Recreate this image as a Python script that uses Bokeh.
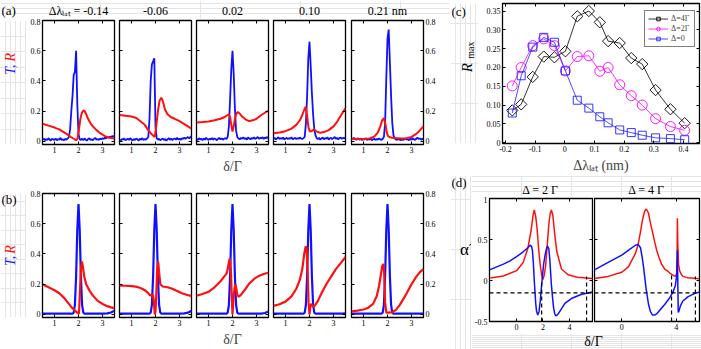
import math
from bokeh.plotting import figure
from bokeh.models import (Range1d, LinearAxis, FixedTicker, CustomJSTickFormatter,
                          CustomLabelingPolicy, Span, Legend, LegendItem)
from bokeh.core.properties import value
from bokeh.layouts import row, column
from bokeh.embed import file_html
from bokeh.resources import INLINE

FONT = "Liberation Serif"
BLUE = "#1010ff"
RED = "#ff1010"

# ---------------- panel (a): measured spectra ----------------
A_TITLES = ["Δλₗₐₜ = -0.14", "-0.06", "0.02", "0.10", "0.21 nm"]
AX = [0.5, 0.55, 0.6, 0.65, 0.7, 0.75, 0.8, 0.85, 0.9, 0.95, 1.0, 1.05, 1.1, 1.15, 1.2,
      1.25, 1.3, 1.35, 1.4, 1.45, 1.5, 1.55, 1.6, 1.65, 1.7, 1.75, 1.8, 1.85, 1.9, 1.95,
      2.0, 2.05, 2.1, 2.15, 2.2, 2.25, 2.3, 2.35, 2.4, 2.45, 2.5, 2.55, 2.6, 2.65, 2.7,
      2.75, 2.8, 2.85, 2.9, 2.95, 3.0, 3.05, 3.1, 3.15, 3.2, 3.25, 3.3, 3.35, 3.4, 3.45, 3.5]
A1_T = [0.012, 0.020, 0.008, 0.015, 0.010, 0.022, 0.012, 0.006, 0.018, 0.014, 0.010, 0.020,
        0.008, 0.016, 0.012, 0.024, 0.010, 0.014, 0.008, 0.018, 0.012, 0.020,
        0.03, 0.08, 0.20, 0.30, 0.44, 0.46, 0.60, 0.25, 0.05, 0.015,
        0.010, 0.018, 0.008, 0.020, 0.012, 0.006, 0.016, 0.022, 0.010, 0.014, 0.008, 0.018,
        0.024, 0.012, 0.016, 0.010, 0.020, 0.014, 0.022, 0.016, 0.026, 0.020, 0.030, 0.024,
        0.032, 0.028, 0.036, 0.030, 0.040]
A2_T = [0.010, 0.006, 0.016, 0.012, 0.020, 0.008, 0.014, 0.018, 0.010, 0.022, 0.012, 0.008,
        0.016, 0.010, 0.020, 0.014, 0.006, 0.018, 0.012, 0.022, 0.010, 0.016, 0.012, 0.020,
        0.03, 0.15, 0.40, 0.51, 0.53, 0.55, 0.10, 0.02,
        0.012, 0.018, 0.008, 0.014, 0.020, 0.010, 0.016, 0.006, 0.014, 0.022, 0.012, 0.018,
        0.010, 0.016, 0.020, 0.012, 0.024, 0.014, 0.018, 0.010, 0.022, 0.016, 0.026, 0.018,
        0.024, 0.030, 0.020, 0.028, 0.034]
A3_T = [0.016, 0.010, 0.022, 0.014, 0.018, 0.008, 0.020, 0.012, 0.024, 0.016, 0.010, 0.018,
        0.014, 0.022, 0.012, 0.020, 0.016, 0.008, 0.018, 0.024, 0.014, 0.020, 0.012, 0.018,
        0.022, 0.016,
        0.03, 0.10, 0.28, 0.48, 0.60, 0.45, 0.22, 0.07, 0.03,
        0.020, 0.014, 0.024, 0.018, 0.028, 0.016, 0.022, 0.012, 0.026, 0.020, 0.014, 0.024,
        0.018, 0.028, 0.016, 0.022, 0.030, 0.018, 0.024, 0.020, 0.028, 0.016, 0.026, 0.022,
        0.030, 0.020]
A4_T = [0.018, 0.024, 0.014, 0.020, 0.028, 0.016, 0.022, 0.018, 0.026, 0.012, 0.020, 0.024,
        0.016, 0.022, 0.018, 0.028, 0.014, 0.020, 0.024, 0.016, 0.022, 0.018, 0.026, 0.020,
        0.016, 0.022,
        0.03, 0.12, 0.30, 0.55, 0.66, 0.50, 0.32, 0.18, 0.08, 0.04, 0.022,
        0.016, 0.024, 0.012, 0.020, 0.026, 0.014, 0.022, 0.018, 0.028, 0.012, 0.020, 0.024,
        0.016, 0.022, 0.030, 0.018, 0.024, 0.014, 0.022, 0.026, 0.018, 0.024, 0.020, 0.026]
A5_T = [0.020, 0.014, 0.024, 0.018, 0.010, 0.022, 0.016, 0.012, 0.020, 0.008, 0.018, 0.014,
        0.022, 0.010, 0.016, 0.012, 0.020, 0.008, 0.014, 0.018, 0.010, 0.016, 0.012, 0.020,
        0.014, 0.010, 0.018,
        0.03, 0.12, 0.42, 0.68, 0.74, 0.52, 0.30, 0.12, 0.04, 0.02,
        0.014, 0.010, 0.018, 0.012, 0.008, 0.016, 0.010, 0.014, 0.020, 0.012, 0.016, 0.008,
        0.018, 0.012, 0.022, 0.014, 0.010, 0.018, 0.026, 0.016, 0.020, 0.012, 0.018, 0.014]

A1_RX = [0.5, 0.75, 1.0, 1.2, 1.4, 1.55, 1.7, 1.8, 1.9, 1.96, 2.02, 2.08, 2.14, 2.2, 2.26,
         2.32, 2.4, 2.5, 2.6, 2.75, 2.9, 3.1, 3.3, 3.5]
A1_R = [0.117, 0.105, 0.092, 0.08, 0.06, 0.045, 0.028, 0.018, 0.008, 0.02, 0.08, 0.15, 0.19,
        0.205, 0.2, 0.18, 0.15, 0.12, 0.1, 0.075, 0.055, 0.035, 0.025, 0.02]
A2_RX = [0.5, 0.75, 1.0, 1.2, 1.4, 1.55, 1.7, 1.8, 1.9, 1.97, 2.03, 2.1, 2.17, 2.24, 2.3,
         2.4, 2.5, 2.65, 2.8, 3.0, 3.2, 3.35, 3.5]
A2_R = [0.175, 0.17, 0.165, 0.155, 0.13, 0.11, 0.075, 0.055, 0.04, 0.03, 0.1, 0.2, 0.27,
        0.29, 0.27, 0.21, 0.18, 0.16, 0.15, 0.135, 0.115, 0.1, 0.085]
A3_RX = [0.5, 0.75, 1.0, 1.25, 1.5, 1.65, 1.75, 1.85, 1.9, 1.95, 2.0, 2.05, 2.1, 2.16, 2.22,
         2.3, 2.4, 2.55, 2.7, 2.85, 3.0, 3.2, 3.35, 3.5]
A3_R = [0.125, 0.128, 0.132, 0.14, 0.15, 0.16, 0.17, 0.18, 0.16, 0.11, 0.065, 0.1, 0.15,
        0.185, 0.195, 0.185, 0.165, 0.145, 0.135, 0.14, 0.15, 0.175, 0.19, 0.205]
A4_RX = [0.5, 0.75, 1.0, 1.25, 1.45, 1.6, 1.7, 1.78, 1.84, 1.9, 1.96, 2.02, 2.1, 2.2, 2.3,
         2.45, 2.6, 2.8, 3.0, 3.15, 3.3, 3.5]
A4_R = [0.055, 0.06, 0.068, 0.085, 0.11, 0.14, 0.175, 0.21, 0.23, 0.17, 0.09, 0.065, 0.07,
        0.08, 0.065, 0.058, 0.062, 0.075, 0.1, 0.13, 0.17, 0.22]
A5_RX = [0.5, 0.75, 1.0, 1.25, 1.45, 1.6, 1.7, 1.78, 1.85, 1.92, 1.97, 2.02, 2.1, 2.2, 2.4,
         2.6, 2.8, 3.0, 3.15, 3.3, 3.5]
A5_R = [0.018, 0.016, 0.015, 0.02, 0.032, 0.06, 0.1, 0.14, 0.154, 0.11, 0.06, 0.035, 0.028,
        0.024, 0.022, 0.02, 0.022, 0.03, 0.045, 0.065, 0.1]

# ---------------- panel (b): simulated spectra ----------------
BX = [0.5, 1.0, 1.5, 1.7, 1.75, 1.8, 1.85, 1.9, 1.95, 2.0, 2.05, 2.1, 2.15, 2.2, 2.25, 2.3,
      2.5, 3.0, 3.2, 3.35, 3.5]
B1_T = [0.005, 0.005, 0.005, 0.005, 0.006, 0.012, 0.064, 0.25, 0.56, 0.73, 0.56, 0.25, 0.064,
        0.012, 0.006, 0.005, 0.005, 0.005, 0.007, 0.013, 0.025]
B2_T = [0.005, 0.005, 0.005, 0.005, 0.006, 0.012, 0.064, 0.25, 0.56, 0.73, 0.56, 0.25, 0.064,
        0.012, 0.006, 0.005, 0.005, 0.005, 0.007, 0.012, 0.024]
B3_T = [0.005, 0.005, 0.005, 0.005, 0.006, 0.012, 0.064, 0.25, 0.56, 0.73, 0.56, 0.25, 0.064,
        0.012, 0.006, 0.005, 0.005, 0.005, 0.006, 0.01, 0.02]
B4_T = [0.005, 0.005, 0.005, 0.005, 0.006, 0.012, 0.064, 0.25, 0.56, 0.73, 0.56, 0.25, 0.064,
        0.012, 0.006, 0.005, 0.005, 0.005, 0.005, 0.006, 0.008]
B5_T = [0.005, 0.005, 0.005, 0.005, 0.006, 0.012, 0.064, 0.25, 0.56, 0.73, 0.56, 0.25, 0.064,
        0.012, 0.006, 0.005, 0.005, 0.005, 0.005, 0.005, 0.005]

B1_RX = [0.5, 0.75, 1.0, 1.2, 1.4, 1.55, 1.7, 1.85, 1.95, 2.02, 2.06, 2.1, 2.14, 2.18, 2.24,
         2.32, 2.45, 2.6, 2.8, 3.0, 3.2, 3.35, 3.5]
B1_R = [0.2, 0.18, 0.16, 0.14, 0.11, 0.08, 0.05, 0.025, 0.012, 0.005, 0.15, 0.3, 0.35, 0.32,
        0.25, 0.2, 0.16, 0.125, 0.09, 0.07, 0.055, 0.047, 0.042]
B2_RX = [0.5, 0.75, 1.0, 1.25, 1.45, 1.6, 1.7, 1.78, 1.84, 1.89, 1.93, 1.97, 2.0, 2.03, 2.07,
         2.11, 2.15, 2.2, 2.3, 2.5, 2.7, 2.9, 3.1, 3.3, 3.5]
B2_R = [0.19, 0.19, 0.187, 0.182, 0.17, 0.155, 0.14, 0.125, 0.13, 0.13, 0.09, 0.0, 0.02, 0.12,
        0.3, 0.35, 0.28, 0.2, 0.185, 0.18, 0.17, 0.155, 0.14, 0.13, 0.122]
B3_RX = [0.5, 0.75, 1.0, 1.25, 1.5, 1.65, 1.75, 1.8, 1.85, 1.89, 1.93, 1.97, 2.0, 2.04, 2.08,
         2.12, 2.16, 2.2, 2.26, 2.35, 2.5, 2.7, 2.9, 3.1, 3.3, 3.5]
B3_R = [0.124, 0.135, 0.15, 0.18, 0.22, 0.25, 0.27, 0.3, 0.35, 0.37, 0.3, 0.12, 0.0, 0.1, 0.17,
        0.2, 0.17, 0.13, 0.117, 0.13, 0.16, 0.205, 0.235, 0.255, 0.268, 0.276]
B4_RX = [0.5, 0.75, 1.0, 1.25, 1.45, 1.6, 1.7, 1.78, 1.84, 1.88, 1.92, 1.96, 2.0, 2.04, 2.08,
         2.13, 2.18, 2.25, 2.35, 2.5, 2.7, 2.9, 3.1, 3.3, 3.5]
B4_R = [0.057, 0.068, 0.085, 0.12, 0.17, 0.23, 0.3, 0.4, 0.45, 0.44, 0.3, 0.08, 0.0, 0.06,
        0.07, 0.055, 0.05, 0.065, 0.09, 0.14, 0.2, 0.25, 0.3, 0.34, 0.38]
B5_RX = [0.5, 0.75, 1.0, 1.2, 1.4, 1.55, 1.65, 1.72, 1.78, 1.82, 1.86, 1.9, 1.95, 2.05, 2.2,
         2.35, 2.5, 2.65, 2.8, 3.0, 3.2, 3.35, 3.5]
B5_R = [0.02, 0.025, 0.033, 0.045, 0.07, 0.12, 0.19, 0.26, 0.32, 0.335, 0.28, 0.08, 0.012,
        0.012, 0.015, 0.03, 0.06, 0.1, 0.14, 0.2, 0.25, 0.28, 0.3]

# ---------------- panel (c): R_max vs detuning ----------------
C_X = [-0.177, -0.147, -0.108, -0.071, -0.035, 0.002, 0.042, 0.081, 0.118, 0.146, 0.185,
       0.224, 0.261, 0.306, 0.356, 0.404]
C_4G = [0.086, 0.102, 0.175, 0.229, 0.227, 0.243, 0.336, 0.350, 0.320, 0.270, 0.265, 0.225,
        0.209, 0.140, 0.089, 0.052]
C_2G = [0.151, 0.200, 0.258, 0.276, 0.258, 0.191, 0.229, 0.231, 0.190, 0.200, 0.154, 0.125,
        0.100, 0.064, 0.043, 0.033]
C_0 = [0.079, 0.178, 0.254, 0.280, 0.267, 0.191, 0.113, 0.092, 0.069, 0.053, 0.034, 0.027,
       0.020, 0.013, 0.011, 0.008]
C_LABELS = ["Δ=4Γ", "Δ=2Γ", "Δ=0"]

# ---------------- panel (d): polarizability ----------------
D1_RX = [-2.0, -1.0, 0.0, 0.5, 0.85, 1.1, 1.25, 1.34, 1.45, 1.55, 1.7, 1.8, 1.9, 2.0, 2.1,
         2.2, 2.3, 2.45, 2.55, 2.64, 2.75, 2.9, 3.05, 3.4, 3.9, 4.6, 5.75]
D1_R = [0.03, 0.055, 0.12, 0.22, 0.39, 0.61, 0.8, 0.86, 0.78, 0.64, 0.33, 0.18, 0.07, 0.01,
        0.07, 0.18, 0.38, 0.7, 0.82, 0.86, 0.79, 0.55, 0.35, 0.14, 0.07, 0.04, 0.025]
D1_BX = [-2.05, -1.0, -0.5, 0.0, 0.5, 0.85, 1.02, 1.12, 1.2, 1.27, 1.34, 1.45, 1.51, 1.6, 1.7,
         1.8, 1.95, 2.05, 2.15, 2.25, 2.34, 2.44, 2.52, 2.63, 2.72, 2.8, 2.9, 2.98, 3.1, 3.3,
         3.66, 4.15, 4.88, 5.75]
D1_B = [0.13, 0.2, 0.24, 0.29, 0.35, 0.40, 0.43, 0.42, 0.37, 0.22, 0.0, -0.28, -0.37, -0.42,
        -0.38, -0.24, 0.04, 0.2, 0.3, 0.38, 0.42, 0.39, 0.25, -0.04, -0.2, -0.33, -0.41, -0.43,
        -0.42, -0.37, -0.28, -0.22, -0.17, -0.14]
D2_RX = [-2.0, -1.0, 0.0, 0.5, 1.0, 1.2, 1.37, 1.5, 1.6, 1.7, 1.77, 1.85, 1.96, 2.1, 2.2, 2.4,
         2.56, 2.75, 2.92, 3.15, 3.4, 3.6, 3.8, 3.95, 4.02, 4.06, 4.08, 4.11, 4.16, 4.24, 4.35,
         4.48, 4.8, 5.1, 5.7]
D2_R = [0.025, 0.05, 0.1, 0.17, 0.33, 0.44, 0.59, 0.72, 0.8, 0.85, 0.87, 0.86, 0.82, 0.7,
        0.63, 0.48, 0.37, 0.27, 0.2, 0.14, 0.11, 0.08, 0.06, 0.05, 0.08, 0.35, 0.76, 0.45, 0.2,
        0.12, 0.08, 0.05, 0.035, 0.03, 0.02]
D2_BX = [-2.0, -1.0, 0.0, 0.5, 1.0, 1.2, 1.37, 1.5, 1.6, 1.77, 1.96, 2.1, 2.25, 2.44, 2.6,
         2.8, 3.16, 3.52, 3.76, 3.93, 4.02, 4.06, 4.08, 4.1, 4.14, 4.2, 4.3, 4.48, 4.84, 5.32,
         5.7]
D2_B = [0.13, 0.22, 0.31, 0.37, 0.43, 0.44, 0.40, 0.28, 0.16, -0.08, -0.29, -0.38, -0.42,
        -0.42, -0.4, -0.36, -0.29, -0.21, -0.14, -0.06, 0.05, 0.2, 0.37, 0.1, -0.39, -0.37,
        -0.31, -0.25, -0.2, -0.16, -0.14]
D_HLINE = -0.15
D1_VX = [1.9, 5.3]
D1_VTOP = [0.0, 0.05]
D2_VX = [3.65, 5.4]
D2_VTOP = [0.06, 0.05]
D_TITLES = ["Δ = 2 Γ", "Δ = 4 Γ"]

for arr in (A1_T, A2_T, A3_T, A4_T, A5_T):
    assert len(arr) == len(AX), len(arr)

FMT_G = "return String(Math.round(tick*100)/100);"
FMT_1 = "return tick == 0 ? '0' : tick.toFixed(1);"
FMT_2 = "return tick == 0 ? '0' : tick.toFixed(2);"
HIDE = CustomLabelingPolicy(code="for (const i of Array.from(indices)) { indices.unset(i) }")


def setup_axis(ax, ticks, fmt, show, size="8px", standoff=2):
    ax.ticker = FixedTicker(ticks=ticks)
    ax.formatter = CustomJSTickFormatter(code=fmt)
    ax.major_tick_in = 3
    ax.major_tick_out = 0
    ax.minor_tick_line_color = None
    ax.axis_line_color = None
    ax.major_tick_line_color = "black"
    ax.major_label_text_font = FONT
    ax.major_label_text_color = "black"
    if show:
        ax.major_label_text_font_size = size
        ax.major_label_standoff = standoff
    else:
        ax.major_label_text_font_size = "0px"
        ax.major_label_standoff = 0
        ax.major_label_policy = HIDE


def make_fig(w, h, bl, br, bt, bb, xr, yr, xt, yt, xfmt, yfmt,
             show_b=True, show_l=False, show_r=False):
    p = figure(width=w, height=h, x_range=Range1d(*xr), y_range=Range1d(*yr),
               output_backend="svg", toolbar_location=None, title_location=None,
               min_border_left=bl, min_border_right=br, min_border_top=bt,
               min_border_bottom=bb)
    p.xgrid.visible = False
    p.ygrid.visible = False
    p.outline_line_color = "black"
    p.outline_line_width = 1.3
    p.add_layout(LinearAxis(), "above")
    p.add_layout(LinearAxis(), "right")
    setup_axis(p.below[0], xt, xfmt, show_b)
    setup_axis(p.above[0], xt, xfmt, False)
    setup_axis(p.left[0], yt, yfmt, show_l)
    setup_axis(p.right[0], yt, yfmt, show_r)
    return p


def text_fig(w, h):
    p = figure(width=w, height=h, x_range=Range1d(0, w), y_range=Range1d(0, h),
               output_backend="svg", toolbar_location=None, title_location=None,
               x_axis_location=None, y_axis_location=None, min_border=0)
    p.outline_line_color = None
    return p


def put(p, txt, x, y_top, size="13px", color="black", angle=0.0, style="normal",
        align="left", baseline="middle"):
    p.text(x=[x], y=[p.height - y_top], text=[txt], text_font=value(FONT),
           text_font_size=value(size), text_color=color, angle=angle,
           text_font_style=style, text_align=align, text_baseline=baseline)


def xlabel(p, text):
    ax = p.below[0]
    ax.axis_label = text
    ax.axis_label_text_font = FONT
    ax.axis_label_text_font_size = "14px"
    ax.axis_label_text_font_style = "normal"
    ax.axis_label_standoff = 3


AY = [0, 0.2, 0.4, 0.6, 0.8]
ATX = [1, 2, 3]
XR_AB = (0.5, 3.5)
YR_AB = (-0.02, 0.8)

# geometry of the 5 columns after the 26px label strip: (width, border-left, border-right)
COLS = [(90, 16, 2), (77, 3, 2), (77, 3, 2), (78, 3, 3), (102, 3, 27)]
TITLE_X = [78, 155, 232, 309, 387]

a_T = [A1_T, A2_T, A3_T, A4_T, A5_T]
a_RX = [A1_RX, A2_RX, A3_RX, A4_RX, A5_RX]
a_R = [A1_R, A2_R, A3_R, A4_R, A5_R]
b_T = [B1_T, B2_T, B3_T, B4_T, B5_T]
b_RX = [B1_RX, B2_RX, B3_RX, B4_RX, B5_RX]
b_R = [B1_R, B2_R, B3_R, B4_R, B5_R]

# title strip over row (a)
top_strip = text_fig(450, 18)
put(top_strip, "(a)", 1, 10, size="13px")
for tx, tt in zip(TITLE_X, A_TITLES):
    put(top_strip, tt, tx, 10, size="12px", align="center")

lab_a = text_fig(26, 160)   # spans y 18..178
lab_b = text_fig(26, 171)   # spans y 178..349
for lp, top, t_y in ((lab_a, 18, 88), (lab_b, 178, 278)):
    put(lp, "T,", 10, t_y - top, size="14px", color=BLUE, angle=math.pi / 2,
        style="italic")
    put(lp, "R", 10, t_y - top - 17, size="14px", color=RED, angle=math.pi / 2,
        style="italic")
put(lab_b, "(b)", 1, 8, size="13px")

row_a = [lab_a]
row_b = [lab_b]
for i, (w, bl, br) in enumerate(COLS):
    pa = make_fig(w, 160, bl, br, 2, 34, XR_AB, YR_AB, ATX, AY, FMT_G, FMT_1,
                  show_l=(i == 0), show_r=(i == 4))
    pa.line(AX, a_T[i], line_color=BLUE, line_width=1.8)
    pa.line(a_RX[i], a_R[i], line_color=RED, line_width=2.0)
    pb = make_fig(w, 171, bl, br, 15, 32, XR_AB, YR_AB, ATX, AY, FMT_G, FMT_1,
                  show_l=(i == 0), show_r=(i == 4))
    pb.line(BX, b_T[i], line_color=BLUE, line_width=2.2)
    pb.line(b_RX[i], b_R[i], line_color=RED, line_width=2.2)
    if i == 2:
        xlabel(pa, "δ/Γ")
        xlabel(pb, "δ/Γ")
    row_a.append(pa)
    row_b.append(pb)

# ---------------- (c) ----------------
lab_c = text_fig(28, 175)   # x 450..478
put(lab_c, "(c)", 1, 10, size="13px")
put(lab_c, "R", 16, 86, size="15px", angle=math.pi / 2, style="italic")
put(lab_c, "max", 20, 69, size="10px", angle=math.pi / 2)

c = make_fig(223, 175, 24, 2, 3, 32, (-0.21, 0.454), (-0.002, 0.37),
             [-0.2, -0.1, 0, 0.1, 0.2, 0.3, 0.4],
             [0, 0.05, 0.1, 0.15, 0.2, 0.25, 0.3, 0.35], FMT_1, FMT_2, show_l=True)
xlabel(c, "Δλₗₐₜ (nm)")
l1 = c.line(C_X, C_4G, line_color="black", line_width=0.8)
s1 = c.scatter(C_X, C_4G, marker="square", angle=math.pi / 4, size=8,
               fill_color=None, line_color="black", line_width=0.9)
l2 = c.line(C_X, C_2G, line_color="#ff00ff", line_width=0.8)
s2 = c.scatter(C_X, C_2G, marker="circle", size=10, fill_color=None,
               line_color="#ff00ff", line_width=0.9)
l3 = c.line(C_X, C_0, line_color="#2020ff", line_width=0.8)
s3 = c.scatter(C_X, C_0, marker="square", size=8, fill_color=None,
               line_color="#2020ff", line_width=0.9)
leg = Legend(items=[LegendItem(label=C_LABELS[0], renderers=[l1, s1]),
                    LegendItem(label=C_LABELS[1], renderers=[l2, s2]),
                    LegendItem(label=C_LABELS[2], renderers=[l3, s3])],
             location=(142, 96))
leg.label_text_font = FONT
leg.label_text_font_size = "8px"
leg.glyph_width = 20
leg.glyph_height = 9
leg.label_height = 9
leg.spacing = 1
leg.padding = 3
leg.margin = 0
leg.label_standoff = 3
leg.border_line_color = "black"
leg.border_line_width = 0.8
c.add_layout(leg)

# ---------------- (d) ----------------
lab_d = text_fig(21, 174)   # x 450..471, y 175..349
put(lab_d, "(d)", 1, 7, size="13px")
put(lab_d, "α̃", 14, 74, size="17px", align="center")

d_top = text_fig(230, 21)   # x 471..701, y 175..196
put(d_top, D_TITLES[0], 69, 14, size="12px", align="center")
put(d_top, D_TITLES[1], 175, 14, size="12px", align="center")

d1 = make_fig(122, 137, 16, 1, 2, 12, (-2.05, 5.75), (-0.5, 1.0), [0, 2, 4],
              [-0.5, 0, 0.5, 1], FMT_G, FMT_G, show_l=True)
d2 = make_fig(108, 137, 1, 2, 2, 12, (-2.0, 5.7), (-0.5, 1.0), [0, 4],
              [-0.5, 0, 0.5, 1], FMT_G, FMT_G)
for p, rx, ry, bx, by, vx, vt in ((d1, D1_RX, D1_R, D1_BX, D1_B, D1_VX, D1_VTOP),
                                  (d2, D2_RX, D2_R, D2_BX, D2_B, D2_VX, D2_VTOP)):
    p.line(rx, ry, line_color=RED, line_width=1.5)
    p.line(bx, by, line_color=BLUE, line_width=1.5)
    p.add_layout(Span(location=D_HLINE, dimension="width", line_color="black",
                      line_width=1.2, line_dash="4 3"))
    p.segment(x0=vx, y0=[-0.5] * len(vx), x1=vx, y1=vt, line_color="black",
              line_width=1.2, line_dash="4 3")

d_bot = text_fig(230, 16)   # y 333..349
put(d_bot, "δ/Γ", 122, 8, size="14px", align="center")

left = column(top_strip, row(*row_a), row(*row_b))
right = column(row(lab_c, c), row(lab_d, column(d_top, row(d1, d2), d_bot)))
root = row(left, right)

open("out.html", "w").write(file_html(root, INLINE))
